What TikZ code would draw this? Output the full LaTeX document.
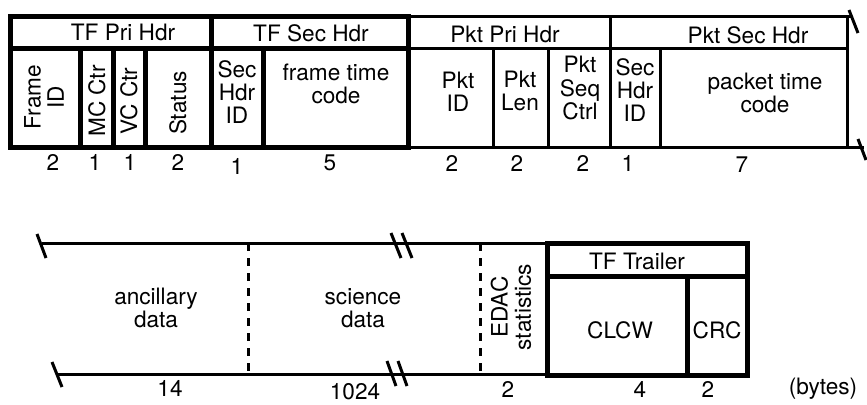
\documentclass[tikz,border=0pt]{standalone}
\usepackage{fontspec}
\setmainfont{TeX Gyre Heros}

\begin{document}
\begin{tikzpicture}[x=0.5pt,y=-0.5pt,
  heavy/.style={line width=2.5pt},
  light/.style={line width=1.5pt},
  brk/.style={line width=1.5pt},
  lbl/.style={inner sep=0pt,align=center,font=\fontsize{11.3}{11.6}\selectfont},
  vlbl/.style={lbl,rotate=90}]
\useasboundingbox (0,0) rectangle (867,404);

% Draw the packet header boxes (thin lines)
\draw[light] (408,16) rectangle (610,147);
\draw[light] (408,48) -- (610,48);
\draw[light] (493,48) -- (493,147);
\draw[light] (548,48) -- (548,147);
\draw[light] (610,16) -- (852,16);
\draw[light] (610,147) -- (864,147);
\draw[light] (847,16) -- (847,147);
\draw[light] (610,48) -- (847,48);
\draw[light] (660,48) -- (660,147);

% Draw the frame header boxes (thick lines)
\draw[heavy] (10,16) rectangle (211,147);
\draw[heavy] (10,48) -- (211,48);
\foreach \x in {80,113,145}
  \draw[heavy] (\x,48) -- (\x,147);
\draw[heavy] (211,16) rectangle (408,147);
\draw[heavy] (211,48) -- (408,48);
\draw[heavy] (263,48) -- (263,147);

% Draw the break marks on the right
\draw[brk] (849,10) -- (858,33);
\draw[brk] (858,139) -- (866,160);

% Header labels
\node[lbl] (tfpri) at (123,32) {TF Pri Hdr};
\node[lbl] (tfsec) at (311,33) {TF Sec Hdr};
\node[lbl] (pktpri) at (505,34) {Pkt Pri Hdr};
\node[lbl] (pktsec) at (748,35) {Pkt Sec Hdr};

% Field labels
\node[vlbl] (frameid) at (44,97) {Frame\\ID};
\node[vlbl] (mcctr) at (97,101) {MC Ctr};
\node[vlbl] (vcctr) at (129,101) {VC Ctr};
\node[vlbl] (status) at (178,103) {Status};
\node[lbl] (sechdr) at (237,92) {Sec\\Hdr\\ID};
\node[lbl] (ftc) at (336,84) {frame time\\code};
\node[lbl] (pktid) at (458,92) {Pkt\\ID};
\node[lbl] (pktlen) at (520,91) {Pkt\\Len};
\node[lbl] (pktseq) at (580,88) {Pkt\\Seq\\Ctrl};
\node[lbl] (psechdr) at (635,90) {Sec\\Hdr\\ID};
\node[lbl] (ptc) at (765,93) {packet time\\code};

% Byte counts, top row
\foreach \x/\y/\n [count=\i] in {53/162/2,95/162/1,130/162/1,178/162/2,237/166/1,330/163/5,
    452/163/2,517/163/2,583/163/2,628/163/1,742/165/7}
  \node[lbl] (top\i) at (\x,\y) {\n};

% Draw the data field lines
\draw[light] (42,243) -- (547,243);
\draw[light] (57,374) -- (547,374);
\draw[light,dash pattern=on 4pt off 3.5pt] (248,243) -- (248,374);
\draw[light,dash pattern=on 4pt off 3.5pt] (480,243) -- (480,374);

% Draw the break marks on the left and in the middle
\draw[brk] (37,234) -- (46,258);
\draw[brk] (52,362) -- (62,387);
\draw[brk] (391,233) -- (401,258);
\draw[brk] (402,233) -- (412,258);
\draw[brk] (387,361) -- (396,386);
\draw[brk] (398,361) -- (407,386);

% Draw the trailer box
\draw[heavy] (547,243) rectangle (747,375);
\draw[heavy] (547,276) -- (747,276);
\draw[heavy] (687,276) -- (687,375);

% Data and trailer labels
\node[lbl] (ancil) at (156,308) {ancillary\\data};
\node[lbl] (sci) at (363,308) {science\\data};
\node[vlbl] (edac) at (511,307) {EDAC\\statistics};
\node[lbl] (tftrl) at (637,261) {TF Trailer};
\node[lbl] (clcw) at (620,330) {CLCW};
\node[lbl] (crc) at (717,330) {CRC};

% Byte counts, bottom row
\foreach \x/\y/\n [count=\i] in {170/388/14,355/392/1024,508/389/2,640/389/4,708/389/2}
  \node[lbl] (bot\i) at (\x,\y) {\n};
\node[lbl] (bytes) at (823,389) {(bytes)};

\end{tikzpicture}
\end{document}
